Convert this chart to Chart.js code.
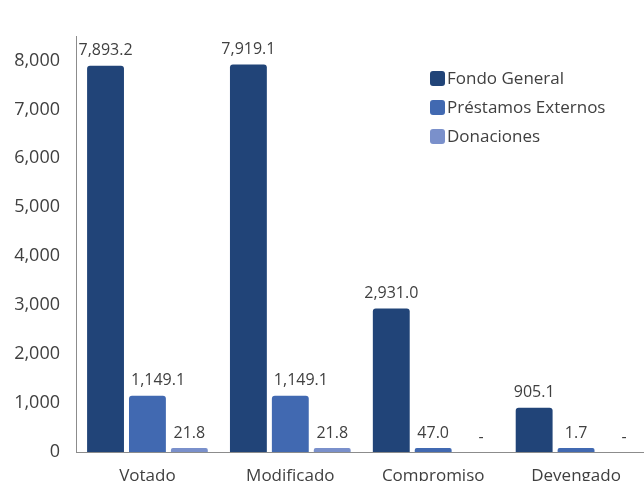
<!DOCTYPE html>
<html><head><meta charset="utf-8">
<script src="https://cdn.jsdelivr.net/npm/chart.js@4/dist/chart.umd.min.js"></script>
<style>html,body{margin:0;padding:0;overflow:hidden;background:#fff;width:644px;height:481px}canvas{display:block}</style>
</head><body>
<canvas id="c" width="652" height="492"></canvas>
<script>
const categories = ['Votado', 'Modificado', 'Compromiso', 'Devengado'];
const fondoGeneral = [7893.2, 7919.1, 2931.0, 905.1];
const prestamosExternos = [1149.1, 1149.1, 47.0, 1.7];
const donaciones = [21.8, 21.8, null, null];
const seriesNames = ['Fondo General', 'Préstamos Externos', 'Donaciones'];
const seriesColors = ['#214478', '#4169b1', '#7a90cb'];
const yTicks = [0, 1000, 2000, 3000, 4000, 5000, 6000, 7000, 8000];

const FONT = '"Open Sans", sans-serif';
const TXT = '#404040';

const fmt = v => (v === null || v === 0) ? '-' : v.toLocaleString('en-US', {minimumFractionDigits: 1, maximumFractionDigits: 1});

const labelPlugin = {
  id: 'valLabels',
  afterDatasetsDraw(chart) {
    const ctx = chart.ctx;
    const base = chart.scales.y.getPixelForValue(0);
    ctx.save();
    ctx.font = '16px ' + FONT;
    ctx.fillStyle = TXT;
    ctx.textAlign = 'left';
    ctx.textBaseline = 'bottom';
    chart.data.datasets.forEach((ds, di) => {
      chart.getDatasetMeta(di).data.forEach((el, i) => {
        const v = ds.data[i];
        const empty = (v === null || v === 0);
        const y = (empty ? base : el.y) - 7;
        const txt = fmt(v);
        const w = ctx.measureText(txt).width;
        let left = el.x - w / 2 + (empty ? 6 : 0);
        if (di > 0 && !empty) {
          const prev = chart.getDatasetMeta(di - 1).data[i];
          const pv = chart.data.datasets[di - 1].data[i];
          if (prev && pv !== null && prev.y < y) {
            const barLeft = el.x - el.width / 2;
            left = Math.max(left, barLeft + 2);
          }
        }
        ctx.fillText(txt, left, y);
      });
    });
    ctx.restore();
  }
};

const legendPlugin = {
  id: 'customLegend',
  afterDraw(chart) {
    const ctx = chart.ctx;
    ctx.save();
    ctx.font = '17px ' + FONT;
    ctx.textBaseline = 'middle';
    ctx.textAlign = 'left';
    const x0 = 430, y0 = 78, gap = 29;
    chart.data.datasets.forEach((ds, i) => {
      const cy = y0 + i * gap;
      ctx.fillStyle = ds.backgroundColor;
      ctx.beginPath();
      ctx.roundRect(x0, cy - 7, 15, 15, 3);
      ctx.fill();
      ctx.fillStyle = TXT;
      ctx.fillText(ds.label, x0 + 17, cy + 1);
    });
    ctx.restore();
  }
};

new Chart(document.getElementById('c'), {
  type: 'bar',
  data: {
    labels: categories,
    datasets: [fondoGeneral, prestamosExternos, donaciones].map((d, i) => ({
      label: seriesNames[i],
      data: d,
      backgroundColor: seriesColors[i],
      borderRadius: {topLeft: 3, topRight: 3},
      borderSkipped: 'bottom',
      minBarLength: 4,
      barPercentage: 0.88,
      categoryPercentage: 0.88
    }))
  },
  options: {
    responsive: false,
    animation: false,
    layout: {padding: {top: 36, right: 4.5, left: 0, bottom: 0}},
    plugins: {legend: {display: false}, tooltip: {enabled: false}},
    scales: {
      x: {
        grid: {display: false, drawTicks: false},
        border: {display: true, color: '#8c8c8c', width: 1},
        ticks: {color: TXT, font: {family: FONT, size: 17}, padding: 14},
        afterFit(s) { s.height = 40; }
      },
      y: {
        min: 0, max: 8500,
        grid: {display: false, drawTicks: false},
        border: {display: true, color: '#8c8c8c', width: 1},
        afterBuildTicks(s) { s.ticks = yTicks.map(v => ({value: v})); },
        ticks: {
          color: TXT, font: {family: FONT, size: 18}, padding: 16,
          callback: v => v.toLocaleString('en-US')
        },
        afterFit(s) { s.width = 76; }
      }
    }
  },
  plugins: [labelPlugin, legendPlugin]
});
</script>
</body></html>
